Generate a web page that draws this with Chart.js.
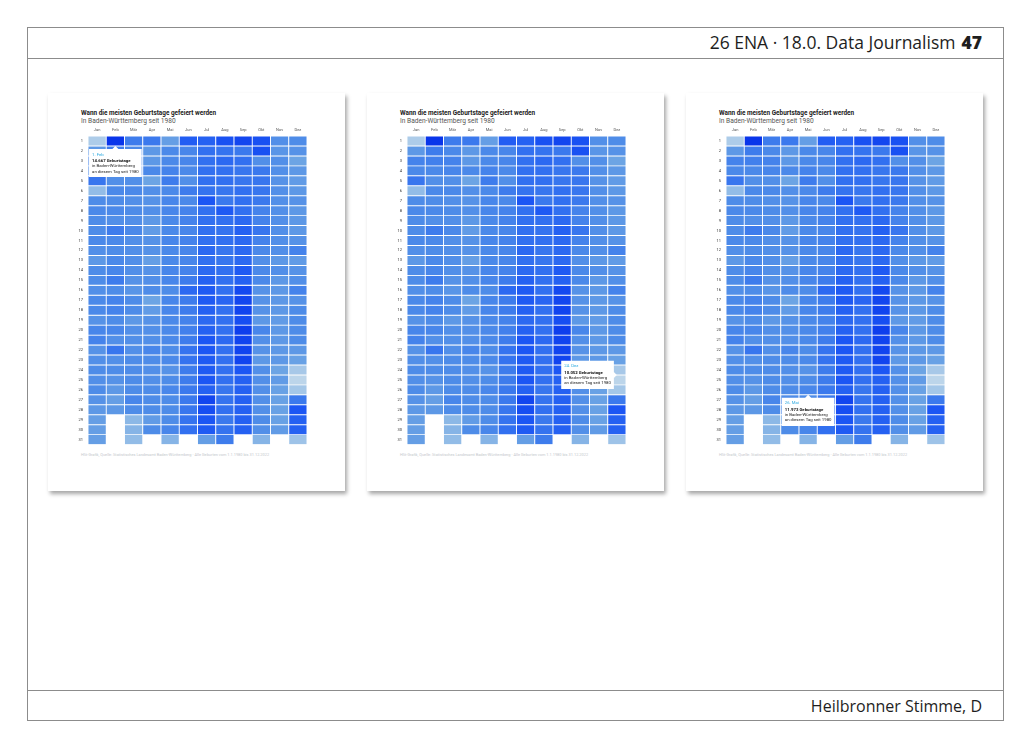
<!DOCTYPE html>
<html>
<head>
<meta charset="utf-8">
<script src="https://cdn.jsdelivr.net/npm/chart.js@4/dist/chart.umd.min.js"></script>
<style>
  body { margin: 0; width: 1030px; height: 747px; position: relative; overflow: hidden; background: #fff; font-family: "Open Sans", sans-serif; }
  .frame { position: absolute; left: 27px; top: 27px; width: 975px; height: 692px; border: 1px solid #8c8c8c; }
  .hline { position: absolute; left: 27px; width: 977px; height: 1px; background: #8c8c8c; }
  .hdr { position: absolute; right: 48px; top: 29px; font-size: 17.5px; line-height: 26px; color: #1e1e1e; }
  .hdr b { font-weight: 800; margin-left: 6px; }
  .ftr { position: absolute; right: 48px; top: 694px; font-size: 16px; line-height: 24px; color: #1e1e1e; }
  .card { position: absolute; top: 93px; width: 297px; height: 398px; background: #fff; box-shadow: 2px 3px 4px rgba(0,0,0,0.35); }
  .card .t { position: absolute; left: 33px; top: 16px; font: bold 6.4px Roboto, sans-serif; color: #222; white-space: nowrap; }
  .card .s { position: absolute; left: 33px; top: 24px; font: 6.6px Roboto, sans-serif; color: #555; white-space: nowrap; }
  .card canvas { position: absolute; left: 26px; top: 33px; }
  .card .src { position: absolute; left: 33px; top: 359px; font: 3.9px Roboto, sans-serif; color: #c4c8cc; white-space: nowrap; }
</style>
</head>
<body>
<div class="frame"></div>
<div class="hline" style="top:58px"></div>
<div class="hline" style="top:690px"></div>
<div class="hdr">26 ENA · 18.0. Data Journalism<b>47</b></div>
<div class="ftr">Heilbronner Stimme, D</div>

<div class="card" style="left:48px"><div class="t">Wann die meisten Geburtstage gefeiert werden</div><div class="s">In Baden-Württemberg seit 1980</div><canvas id="c1" width="233" height="326"></canvas><div class="src">HSt-Grafik, Quelle: Statistisches Landesamt Baden-Württemberg · Alle Geburten vom 1.1.1980 bis 31.12.2022</div></div>
<div class="card" style="left:367px"><div class="t">Wann die meisten Geburtstage gefeiert werden</div><div class="s">In Baden-Württemberg seit 1980</div><canvas id="c2" width="233" height="326"></canvas><div class="src">HSt-Grafik, Quelle: Statistisches Landesamt Baden-Württemberg · Alle Geburten vom 1.1.1980 bis 31.12.2022</div></div>
<div class="card" style="left:686px"><div class="t">Wann die meisten Geburtstage gefeiert werden</div><div class="s">In Baden-Württemberg seit 1980</div><canvas id="c3" width="233" height="326"></canvas><div class="src">HSt-Grafik, Quelle: Statistisches Landesamt Baden-Württemberg · Alle Geburten vom 1.1.1980 bis 31.12.2022</div></div>

<script>
const months = ['Jan', 'Feb', 'Mär', 'Apr', 'Mai', 'Jun', 'Jul', 'Aug', 'Sep', 'Okt', 'Nov', 'Dez'];
const days = Array.from({ length: 31 }, (_, i) => i + 1);

// Geburten je Kalendertag 1980-2022 (aus der Grafik geschätzt)
const jan = [9950, 11400, 12100, 11900, 12500, 10400, 11800, 11900, 11800, 11800, 11900, 11700, 11400, 11800, 11800, 11700, 11900, 11900, 11600, 12000, 12100, 11600, 11700, 11800, 11700, 11800, 11600, 11400, 11200, 11200, 11200];
const feb = [14667, 12300, 12200, 11900, 11700, 11900, 11800, 11900, 11700, 12300, 11900, 11800, 11900, 12000, 12300, 11800, 12100, 12100, 11800, 12000, 11700, 12500, 11700, 11800, 11600, 11400, 11200, 11400, null, null, null];
const mar = [12300, 11900, 12100, 12000, 11700, 11900, 11700, 11800, 11700, 11900, 11700, 11700, 11700, 11700, 11600, 11500, 11800, 11800, 11400, 11700, 11700, 11700, 11800, 11800, 11800, 11800, 12000, 11800, 10500, 10600, 10400];
const apr = [12400, 11400, 11400, 11900, 11000, 11700, 11600, 11700, 11400, 11300, 11600, 11600, 11200, 11600, 11700, 11800, 11000, 11300, 11600, 11700, 11700, 12000, 11800, 11700, 11700, 11800, 11800, 11800, 11300, 11800, null];
const mai = [11200, 11900, 11900, 12100, 12300, 11900, 12000, 12000, 11900, 11900, 12000, 11900, 11900, 12000, 12000, 11800, 12000, 12000, 11900, 11900, 11900, 11800, 11900, 11600, 11800, 11973, 11800, 11800, 11800, 12000, 10600];
const jun = [13200, 12000, 12000, 11900, 11700, 12300, 11900, 12100, 12100, 12000, 12100, 12000, 12000, 12100, 12300, 12900, 12300, 12300, 12100, 12200, 12300, 12600, 12600, 12300, 12300, 12400, 12400, 12500, 12600, 12700, null];
const jul = [13100, 12700, 12700, 12700, 12700, 12600, 13400, 12700, 12700, 12700, 12700, 12900, 12700, 12900, 13100, 13300, 13300, 13100, 12900, 13100, 13400, 13400, 13300, 13300, 13400, 13100, 14000, 13700, 13400, 13300, 11200];
const aug = [13600, 12600, 12900, 12700, 12700, 12500, 12400, 13300, 12700, 12600, 12700, 12500, 12500, 12700, 12700, 12700, 13000, 12700, 12700, 12700, 12900, 12700, 12700, 12700, 12700, 12500, 12600, 12700, 12400, 12600, 12300];
const sep = [14000, 12400, 12700, 12500, 12500, 12700, 12700, 12700, 12900, 13100, 12900, 12900, 12900, 13300, 13100, 13900, 14000, 14100, 13700, 14300, 14100, 14100, 14100, 13400, 13100, 13100, 13100, 13100, 13100, 13100, null];
const okt = [13600, 13600, 11700, 12400, 12500, 12500, 12400, 12100, 12100, 12500, 12100, 11900, 11700, 11900, 11900, 11600, 11600, 11600, 11400, 12000, 11700, 11600, 11400, 11700, 11700, 11700, 11700, 11700, 11800, 11700, 10600];
const nov = [11700, 11500, 11700, 11700, 11600, 11700, 11700, 11700, 11700, 11700, 11700, 11700, 11400, 11700, 11400, 11400, 11400, 11400, 11300, 11400, 11400, 11400, 11400, 11000, 11300, 11100, 11100, 11100, 11100, 11300, null];
const dez = [11800, 11600, 11000, 11400, 11300, 11400, 11600, 11400, 11400, 11400, 11600, 12100, 11300, 11600, 11700, 12100, 11600, 11800, 11800, 11800, 11800, 11400, 11100, 10052, 9700, 10100, 12400, 13400, 13100, 13100, 10200];

const series = [jan, feb, mar, apr, mai, jun, jul, aug, sep, okt, nov, dez];

// Farbskala hell -> dunkel
const stops = [
  [9700, [188, 213, 234]],
  [10500, [140, 184, 230]],
  [11000, [108, 164, 228]],
  [11800, [78, 140, 232]],
  [12700, [50, 112, 240]],
  [13400, [28, 86, 244]],
  [14700, [8, 52, 234]]
];

function shade(v) {
  if (v == null) return 'rgba(0,0,0,0)';
  if (v <= stops[0][0]) return `rgb(${stops[0][1].join(',')})`;
  for (let i = 1; i < stops.length; i++) {
    if (v <= stops[i][0]) {
      const [a, ca] = stops[i - 1];
      const [b, cb] = stops[i];
      const t = (v - a) / (b - a);
      const c = ca.map((x, k) => Math.round(x + (cb[k] - x) * t));
      return `rgb(${c.join(',')})`;
    }
  }
  return `rgb(${stops[stops.length - 1][1].join(',')})`;
}

const fmt = v => String(v).replace(/\B(?=(\d{3})+(?!\d))/g, '.');
const tickFont = { size: 4, family: 'Roboto' };
const tipFont = { size: 4.3, family: 'Roboto' };

function makeChart(id, tip) {
  const ctx = document.getElementById(id).getContext('2d');
  const chart = new Chart(ctx, {
    type: 'bar',
    data: {
      labels: months,
      datasets: days.map((d, i) => ({
        label: String(d),
        data: series.map(s => (s[i] == null ? null : [d - 0.5, d + 0.5])),
        backgroundColor: c => shade(series[c.dataIndex][i]),
        borderColor: '#ffffff',
        borderWidth: 0.8,
        borderSkipped: false,
        grouped: false,
        categoryPercentage: 1,
        barPercentage: 1
      }))
    },
    options: {
      responsive: false,
      animation: false,
      events: [],
      layout: { padding: 0 },
      plugins: {
        legend: { display: false },
        tooltip: {
          xAlign: tip.xAlign,
          yAlign: tip.yAlign,
          backgroundColor: '#ffffff',
          titleColor: '#2aa9e0',
          titleFont: { ...tipFont, weight: 'normal' },
          titleMarginBottom: 1,
          bodyColor: '#111',
          bodyFont: { ...tipFont, weight: 'bold' },
          footerColor: '#222',
          footerFont: { ...tipFont, weight: 'normal' },
          footerMarginTop: 0,
          footerSpacing: 0.5,
          titleSpacing: 0,
          bodySpacing: 0,
          displayColors: false,
          padding: 3,
          caretSize: 3,
          caretPadding: 0,
          cornerRadius: 0,
          callbacks: {
            title: items => `${days[items[0].datasetIndex]}. ${months[items[0].dataIndex]}`,
            label: item => `${fmt(series[item.dataIndex][item.datasetIndex])} Geburtstage`,
            footer: () => ['in Baden-Württemberg', 'an diesem Tag seit 1980']
          }
        }
      },
      scales: {
        x: {
          position: 'top',
          grid: { display: false, drawTicks: false },
          border: { display: false },
          ticks: { font: tickFont, color: '#555', padding: 4, maxRotation: 0, autoSkip: false },
          afterFit: s => { s.height = 10; }
        },
        y: {
          min: 0.5,
          max: 31.5,
          reverse: true,
          grid: { display: false, drawTicks: false },
          border: { display: false },
          afterBuildTicks: s => { s.ticks = days.map(v => ({ value: v })); },
          ticks: { font: tickFont, color: '#333', padding: 5, autoSkip: false, callback: v => v },
          afterFit: s => { s.width = 14; }
        }
      }
    }
  });
  chart.tooltip.setActiveElements([{ datasetIndex: tip.day - 1, index: tip.month }], { x: 0, y: 0 });
  chart.update();
  return chart;
}

makeChart('c1', { day: 1, month: 1, xAlign: 'center', yAlign: 'top' });
makeChart('c2', { day: 24, month: 11, xAlign: 'right', yAlign: 'center' });
makeChart('c3', { day: 26, month: 4, xAlign: 'center', yAlign: 'top' });
</script>
</body>
</html>
